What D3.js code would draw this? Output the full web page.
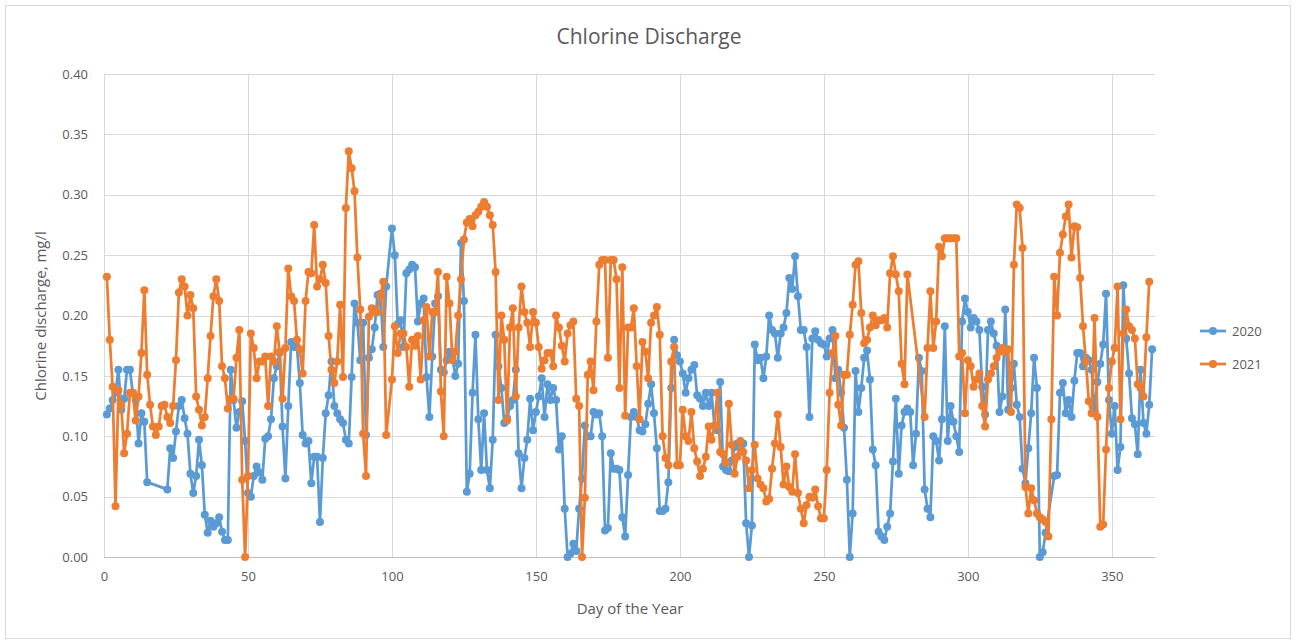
<!DOCTYPE html>
<html>
<head>
<meta charset="utf-8">
<script src="https://cdn.jsdelivr.net/npm/d3@7"></script>
<style>
  body { margin: 0; background: #fff; }
  svg text { font-family: "Open Sans", sans-serif; fill: #595959; }
</style>
</head>
<body>
<div id="chart"></div>
<script>
// day of year and chlorine discharge (mg/l)
let days2020 = [1,2,3,4,5,6,7,8,9,10,11,12,13,14,15,22,23,24,25,26,27,28,29,30,31,32,33,34,35,36,37,38,39,40,41,42,43,44,45,46,47,48,49,50,51,52,53,54,55,56,57,58,59,60,61,62,63,64,65,66,67,68,69,70,71,72,73,74,75,76,77,78,79,80,81,82,83,84,85,86,87,88,89,90,91,92,93,94,95,96,97,98,100,101,102,103,104,105,106,107,108,109,110,111,112,113,114,115,116,117,118,119,120,121,122,123,124,125,126,127,128,129,130,131,132,133,134,135,136,137,138,139,140,141,142,143,144,145,146,147,148,149,150,151,152,153,154,155,156,157,158,159,160,161,162,163,164,165,166,167,168,169,170,171,172,173,174,175,176,177,178,179,180,181,182,183,184,185,186,187,188,189,190,191,192,193,194,195,196,197,198,199,200,201,202,203,204,205,206,207,208,209,210,211,212,213,214,215,216,217,218,219,220,221,222,223,224,225,226,227,228,229,230,231,232,233,234,235,236,237,238,239,240,241,242,243,244,245,246,247,248,249,250,251,252,253,254,255,256,257,258,259,260,261,262,263,264,265,266,267,268,269,270,271,272,273,274,275,276,277,278,279,280,281,282,283,284,285,286,287,288,289,290,291,292,293,294,295,296,297,298,299,300,301,302,303,304,305,306,307,308,309,310,311,312,313,314,315,316,317,318,319,320,321,322,323,324,325,326,327,330,331,332,333,334,335,336,337,338,339,340,341,342,343,344,345,346,347,348,349,350,351,352,353,354,355,356,357,358,359,360,361,362,363,364]
let chl2020 = [.118,.123,.13,.136,.155,.122,.131,.155,.155,.136,.13,.094,.119,.112,.062,.056,.09,.082,.104,.125,.13,.115,.102,.069,.053,.067,.097,.076,.035,.02,.03,.025,.028,.033,.021,.014,.014,.155,.13,.107,.12,.129,.096,.053,.05,.067,.075,.07,.064,.098,.1,.114,.148,.158,.169,.108,.065,.125,.178,.174,.174,.144,.101,.094,.096,.061,.083,.083,.029,.082,.119,.134,.162,.125,.119,.114,.111,.097,.094,.149,.21,.194,.163,.194,.101,.165,.172,.19,.217,.218,.174,.224,.272,.25,.193,.196,.174,.235,.238,.242,.24,.195,.21,.214,.149,.116,.166,.21,.216,.155,.153,.163,.17,.165,.15,.16,.26,.212,.054,.069,.136,.184,.114,.072,.119,.072,.057,.097,.184,.158,.14,.111,.115,.125,.13,.155,.086,.057,.082,.097,.131,.105,.12,.133,.148,.116,.143,.13,.14,.13,.089,.1,.04,0,.003,.011,.005,.04,.065,.109,.1,.1,.12,.118,.119,.1,.022,.024,.086,.073,.073,.072,.033,.017,.068,.116,.12,.116,.105,.104,.11,.127,.143,.119,.09,.038,.038,.04,.062,.14,.18,.167,.162,.152,.136,.148,.155,.159,.134,.131,.125,.136,.125,.136,.109,.105,.145,.075,.072,.071,.08,.091,.094,.09,.094,.028,0,.026,.176,.163,.165,.148,.166,.2,.188,.185,.165,.185,.19,.202,.231,.222,.249,.216,.188,.188,.174,.116,.181,.187,.18,.177,.176,.166,.181,.188,.148,.155,.136,.107,.064,0,.036,.154,.12,.14,.165,.171,.147,.089,.076,.021,.017,.014,.025,.036,.079,.131,.069,.109,.12,.123,.12,.076,.102,.165,.154,.056,.04,.033,.1,.096,.08,.114,.191,.096,.125,.112,.1,.087,.195,.214,.203,.19,.198,.195,.188,.141,.118,.188,.195,.185,.175,.12,.133,.205,.122,.14,.16,.126,.116,.073,.061,.09,.119,.165,.14,0,.004,.02,.067,.068,.136,.144,.119,.13,.116,.146,.169,.169,.158,.165,.163,.155,.12,.145,.16,.176,.218,.13,.102,.125,.072,.091,.225,.181,.152,.115,.11,.085,.155,.111,.102,.126,.172]

let days2021 = [1,2,3,4,5,6,7,8,9,10,11,12,13,14,15,16,17,18,19,20,21,22,23,24,25,26,27,28,29,30,31,32,33,34,35,36,37,38,39,40,41,42,43,44,45,46,47,48,49,50,51,52,53,54,55,56,57,58,59,60,61,62,63,64,65,66,67,68,69,70,71,72,73,74,75,76,77,78,79,80,81,82,83,84,85,86,87,88,89,90,91,92,93,94,95,96,97,98,100,101,102,103,104,105,106,107,108,109,110,111,112,113,114,115,116,117,118,119,120,121,122,123,124,125,126,127,128,129,130,131,132,133,134,135,136,137,138,139,140,141,142,143,144,145,146,147,148,149,150,151,152,153,154,155,156,157,158,159,160,161,162,163,164,165,166,167,168,169,170,171,172,173,174,175,176,177,178,179,180,181,182,183,184,185,186,187,188,189,190,191,192,193,194,195,196,197,198,199,200,201,202,203,204,205,206,207,208,209,210,211,212,213,214,215,216,217,218,219,220,221,222,223,224,225,226,227,228,229,230,231,232,233,234,235,236,237,238,239,240,241,242,243,244,245,246,247,248,249,250,251,252,253,254,255,256,257,258,259,260,261,262,263,264,265,266,267,268,269,270,271,272,273,274,275,276,277,278,279,285,286,287,288,289,290,291,292,293,294,295,296,297,298,299,300,301,302,303,304,305,306,307,308,309,310,311,312,313,314,315,316,317,318,319,320,321,322,323,324,325,326,327,328,329,330,331,332,333,334,335,336,337,338,339,340,341,342,343,344,345,346,347,348,349,350,351,352,353,354,355,356,357,358,359,360,361,362,363]
let chl2021 = [.232,.18,.141,.042,.138,.126,.086,.102,.136,.136,.113,.133,.169,.221,.151,.126,.108,.101,.108,.125,.126,.116,.111,.125,.163,.219,.23,.224,.2,.217,.206,.133,.122,.109,.116,.148,.183,.216,.23,.212,.158,.148,.123,.131,.131,.165,.188,.064,0,.067,.185,.173,.148,.162,.162,.166,.125,.166,.162,.191,.17,.131,.173,.239,.216,.212,.18,.172,.152,.212,.236,.235,.275,.224,.23,.242,.227,.183,.155,.144,.162,.209,.149,.289,.336,.322,.303,.248,.205,.102,.067,.199,.206,.203,.203,.217,.228,.101,.147,.191,.169,.185,.185,.174,.141,.18,.175,.183,.147,.196,.207,.166,.203,.203,.236,.137,.1,.232,.21,.163,.17,.2,.23,.263,.277,.28,.274,.283,.286,.29,.294,.29,.283,.275,.236,.13,.2,.18,.113,.19,.206,.133,.19,.224,.203,.194,.174,.203,.194,.174,.156,.163,.169,.169,.158,.2,.19,.175,.162,.185,.192,.195,.131,.125,0,.049,.151,.162,.138,.195,.242,.246,.246,.165,.246,.246,.23,.14,.24,.117,.19,.19,.206,.158,.114,.178,.17,.148,.194,.2,.207,.184,.1,.082,.076,.162,.174,.076,.076,.122,.1,.096,.12,.09,.079,.067,.073,.083,.108,.097,.109,.136,.087,.085,.078,.127,.093,.069,.083,.096,.087,.08,.057,.072,.093,.065,.06,.057,.046,.048,.073,.094,.118,.091,.06,.075,.058,.054,.085,.053,.04,.028,.043,.05,.049,.056,.042,.032,.032,.072,.136,.169,.183,.126,.109,.151,.151,.184,.209,.242,.245,.202,.177,.18,.19,.2,.192,.196,.196,.198,.19,.235,.249,.234,.22,.16,.143,.234,.116,.173,.22,.173,.195,.257,.249,.264,.264,.264,.264,.264,.166,.169,.119,.163,.158,.141,.147,.152,.125,.108,.147,.152,.158,.165,.17,.173,.17,.172,.12,.242,.292,.289,.256,.058,.036,.057,.047,.036,.033,.031,.029,.017,.114,.232,.2,.252,.267,.282,.292,.248,.274,.273,.231,.191,.162,.129,.119,.198,.116,.025,.027,.089,.14,.162,.173,.224,.114,.185,.205,.191,.188,.181,.143,.14,.133,.182,.228]

let seriesNames = ['2020', '2021']
let seriesColors = ['#5B9BD5', '#ED7D31']
let xTicks = [0, 50, 100, 150, 200, 250, 300, 350]
let yTicks = [0, 0.05, 0.10, 0.15, 0.20, 0.25, 0.30, 0.35, 0.40]

const W = 1296, H = 644
const plot = {left: 104, right: 1155, top: 74, bottom: 557}

const svg = d3.select('#chart').append('svg')
  .attr('width', W)
  .attr('height', H)

// outer chart border
svg.append('rect')
  .attr('x', 5.5).attr('y', 5.5)
  .attr('width', W - 11).attr('height', H - 11)
  .attr('fill', '#fff')
  .attr('stroke', '#d9d9d9')

const x = d3.scaleLinear().domain([0, 365]).range([plot.left, plot.right])
const y = d3.scaleLinear().domain([0, 0.40]).range([plot.bottom, plot.top])

// gridlines
svg.append('g')
  .selectAll('line.h')
  .data(yTicks)
  .enter().append('line')
  .attr('x1', plot.left).attr('x2', plot.right)
  .attr('y1', d => Math.round(y(d)) + 0.5).attr('y2', d => Math.round(y(d)) + 0.5)
  .attr('stroke', d => d === 0 ? '#bfbfbf' : '#d9d9d9')
svg.append('g')
  .selectAll('line.v')
  .data(xTicks)
  .enter().append('line')
  .attr('y1', plot.top).attr('y2', plot.bottom)
  .attr('x1', d => Math.round(x(d)) + 0.5).attr('x2', d => Math.round(x(d)) + 0.5)
  .attr('stroke', '#d9d9d9')

// axes (labels only, lines drawn as grid)
const xAxis = svg.append('g')
  .attr('transform', 'translate(0,' + plot.bottom + ')')
  .call(d3.axisBottom(x).tickValues(xTicks).tickSize(0).tickPadding(15).tickFormat(d3.format('d')))
xAxis.select('.domain').remove()
xAxis.selectAll('text').style('font-size', '13px')

const yAxis = svg.append('g')
  .attr('transform', 'translate(' + plot.left + ',0)')
  .call(d3.axisLeft(y).tickValues(yTicks).tickSize(0).tickPadding(16).tickFormat(d3.format('.2f')))
yAxis.select('.domain').remove()
yAxis.selectAll('text').style('font-size', '13px')

// titles
svg.append('text')
  .attr('x', 649).attr('y', 44)
  .attr('text-anchor', 'middle')
  .style('font-size', '21px')
  .text('Chlorine Discharge')
svg.append('text')
  .attr('x', 630).attr('y', 614)
  .attr('text-anchor', 'middle')
  .style('font-size', '15px')
  .text('Day of the Year')
svg.append('text')
  .attr('transform', 'translate(46,316) rotate(-90)')
  .attr('text-anchor', 'middle')
  .style('font-size', '15px')
  .text('Chlorine discharge, mg/l')

// series
const series = [
  d3.zip(days2020, chl2020),
  d3.zip(days2021, chl2021)
]

const line = d3.line()
  .x(d => x(d[0]))
  .y(d => y(d[1]))

series.forEach((pts, i) => {
  const g = svg.append('g')
  g.append('path')
    .datum(pts)
    .attr('d', line)
    .attr('fill', 'none')
    .attr('stroke', seriesColors[i])
    .attr('stroke-width', 2.75)
    .attr('stroke-linejoin', 'round')
  g.selectAll('circle')
    .data(pts)
    .enter().append('circle')
    .attr('cx', d => x(d[0]))
    .attr('cy', d => y(d[1]))
    .attr('r', 4)
    .attr('fill', seriesColors[i])
})

// legend
const legend = svg.append('g')
  .selectAll('g')
  .data(seriesNames)
  .enter().append('g')
  .attr('transform', (d, i) => 'translate(1200,' + (331 + i * 33) + ')')
legend.append('line')
  .attr('x1', 0).attr('x2', 26)
  .attr('stroke', (d, i) => seriesColors[i])
  .attr('stroke-width', 2.75)
legend.append('circle')
  .attr('cx', 13).attr('r', 4)
  .attr('fill', (d, i) => seriesColors[i])
legend.append('text')
  .attr('x', 32).attr('y', 5)
  .style('font-size', '13px')
  .text(d => d)
</script>
</body>
</html>
